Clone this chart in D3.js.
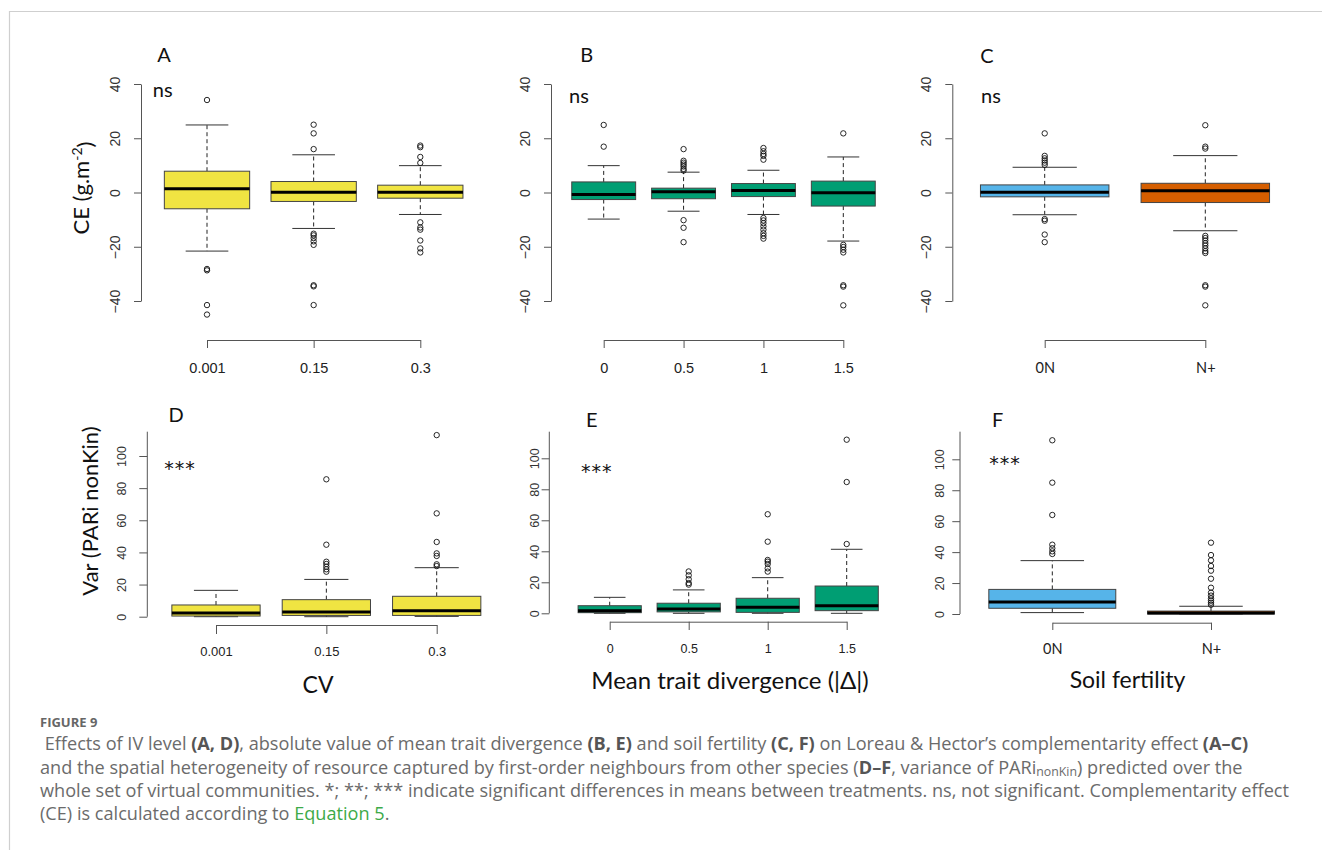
<!DOCTYPE html>
<html><head><meta charset="utf-8">
<script src="https://cdn.jsdelivr.net/npm/d3@7"></script>
<style>body{margin:0;background:#fff}</style>
</head><body>
<svg id="chart" width="1322" height="850"></svg>
<script>
// ---------------- DATA ----------------
// stats per box: [lower whisker, Q1, median, Q3, upper whisker]
const catsIV = ["0.001", "0.15", "0.3"];
const catsDiv = ["0", "0.5", "1", "1.5"];
const catsSoil = ["0N", "N+"];

const ceIV = [[-21.6, -6.0, 1.35, 7.85, 24.9], [-13.25, -3.3, 0.1, 4.05, 13.9], [-8.1, -2.1, 0.1, 2.7, 9.9]];
const ceIVOut = [[34.1, -28.2, -28.7, -41.5, -45.0],
  [25.0, 21.8, 16.0, -15.2, -15.8, -16.8, -18.0, -19.3, -34.2, -34.6, -41.5],
  [17.3, 16.7, 13.1, 10.9, -11.0, -12.9, -13.7, -17.7, -20.6, -22.1]];

const ceDiv = [[-9.8, -2.6, -0.7, 3.9, 9.9], [-6.9, -2.3, 0.25, 1.6, 7.5], [-8.1, -1.5, 0.7, 3.3, 8.2], [-17.9, -5.0, -0.1, 4.2, 13.1]];
const ceDivOut = [[24.9, 16.9],
  [16.0, 11.7, 11.0, 10.3, 9.6, 8.7, 8.1, -10.2, -13.0, -18.3],
  [16.4, 15.2, 14.2, 13.5, 12.1, -9.4, -10.3, -11.3, -12.5, -13.7, -15.0, -16.0, -17.0],
  [21.8, -19.3, -20.1, -21.1, -22.1, -34.2, -34.7, -41.6]];

const ceSoil = [[-8.2, -1.6, 0.1, 2.8, 9.3], [-14.1, -3.7, 0.6, 3.4, 13.6]];
const ceSoilOut = [[21.8, 13.5, 12.6, 11.8, 11.0, 10.2, -9.8, -10.4, -15.5, -18.3],
  [24.8, 16.9, 16.2, -16.0, -16.8, -17.7, -18.7, -19.6, -20.6, -21.6, -22.3, -34.2, -34.7, -41.6]];

const varIV = [[0, 0.4, 2.3, 7.3, 16.4], [0, 0.8, 2.9, 10.6, 23.2], [0.2, 0.8, 3.7, 12.7, 30.5]];
const varIVOut = [[], [85.5, 44.8, 34.2, 32.8, 31.1, 29.5, 28.0], [113.0, 64.3, 46.5, 39.4, 37.8, 32.6, 31.5]];

const varDiv = [[0, 0.4, 1.7, 4.9, 10.3], [0, 0.9, 2.8, 6.5, 15.1], [0, 0.6, 3.9, 9.7, 23.0], [0, 1.7, 4.9, 17.6, 41.3]];
const varDivOut = [[], [27.0, 24.5, 22.0, 19.5, 18.5], [63.9, 46.2, 34.4, 33.3, 31.8, 29.0, 26.9], [112.0, 84.7, 44.7]];

const varSoil = [[0.9, 3.7, 7.8, 15.9, 34.5], [0, 0, 0.6, 1.9, 5.0]];
const varSoilOut = [[112.3, 84.9, 64.0, 44.8, 42.5, 40.5, 38.8],
  [46.1, 38.1, 34.7, 31.0, 28.0, 22.8, 17.0, 13.8, 11.9, 10.1, 8.6, 7.3, 6.0]];

const ticksCE = [-40, -20, 0, 20, 40];
const ticksVar = [0, 20, 40, 60, 80, 100];

const fillIV = ["#F0E442"], fillDiv = ["#009E73"], fillSoil = ["#56B4E9", "#D55E00"];

// ---------------- DRAWING ----------------
const svg = d3.select("#chart");
svg.append("rect").attr("width", 1322).attr("height", 850).attr("fill", "#fff");
svg.append("path").attr("d", "M9.5,850V11.5H1322").attr("fill", "none").attr("stroke", "#cfcfcf").attr("stroke-width", 1.2);

const sansR = "'Liberation Sans', Arial, sans-serif";
const calib = "Lato, 'Open Sans', sans-serif";

function drawPanel(c) {
  const g = svg.append("g");
  const x = d3.scalePoint().domain(c.cats).range(c.xRange);
  const y = d3.scaleLinear().domain(c.yDomain).range(c.yRange);
  const step = x.step();
  const bw = step * 0.8;

  // y axis
  const ya = g.append("g").attr("transform", `translate(${c.axisX},0)`).attr("color", "#555")
    .call(d3.axisLeft(y).tickValues(c.yTicks).tickSize(c.yTick).tickSizeOuter(0));
  if (c.axisTop !== undefined) {
    ya.select(".domain").attr("d", `M0,${y(0)}V${c.axisTop}`);
  }
  ya.selectAll(".tick text")
    .attr("x", null).attr("dy", "0.36em").attr("text-anchor", "middle")
    .attr("transform", `translate(${-c.yLabOff},0) rotate(-90)`)
    .attr("fill", "#333").style("font-family", sansR).style("font-size", c.yLabSize + "px");

  // x axis (R style)
  const xa = g.append("g").attr("transform", `translate(0,${c.xAxisY})`).attr("color", "#555")
    .call(d3.axisBottom(x).tickSize(c.xTick).tickSizeOuter(0));
  xa.selectAll(".tick text").attr("y", c.xLabY - c.xAxisY).attr("dy", "0.36em")
    .attr("fill", "#222").style("font-family", c.xFont).style("font-size", c.xLabSize + "px");

  // boxes
  c.cats.forEach((cat, i) => {
    const [lw, q1, md, q3, uw] = c.box[i];
    const cx = x(cat);
    const fill = c.fills[i % c.fills.length];
    const bg = g.append("g");
    bg.append("line").attr("x1", cx).attr("x2", cx).attr("y1", y(q3)).attr("y2", y(uw))
      .attr("stroke", "#222").attr("stroke-dasharray", "4,3");
    bg.append("line").attr("x1", cx).attr("x2", cx).attr("y1", y(q1)).attr("y2", y(lw))
      .attr("stroke", "#222").attr("stroke-dasharray", "4,3");
    [uw, lw].forEach(v => bg.append("line").attr("x1", cx - bw / 4).attr("x2", cx + bw / 4)
      .attr("y1", y(v)).attr("y2", y(v)).attr("stroke", "#333").attr("stroke-width", 1));
    bg.append("rect").attr("x", cx - bw / 2).attr("width", bw)
      .attr("y", y(q3)).attr("height", Math.max(0.5, y(q1) - y(q3)))
      .attr("fill", fill).attr("stroke", "#444").attr("stroke-width", 1);
    bg.append("line").attr("x1", cx - bw / 2).attr("x2", cx + bw / 2)
      .attr("y1", y(md)).attr("y2", y(md)).attr("stroke", "#000").attr("stroke-width", 3);
    bg.selectAll("circle.o").data(c.out[i]).join("circle")
      .attr("cx", cx).attr("cy", d => y(d)).attr("r", 2.7)
      .attr("fill", "none").attr("stroke", "#111").attr("stroke-width", 0.9);
  });

  // panel letter & significance
  g.append("text").attr("x", c.letterPos[0]).attr("y", c.letterPos[1]).attr("dy", "0.36em")
    .attr("text-anchor", "middle").style("font-family", calib).style("font-size", "20px")
    .attr("fill", "#111").text(c.letter);
  const isNs = c.sig === "ns";
  g.append("text").attr("x", c.sigPos[0]).attr("y", c.sigPos[1]).attr("dy", isNs ? "0.3em" : "0.62em")
    .attr("text-anchor", "middle").style("font-family", isNs ? calib : "'DejaVu Sans', sans-serif")
    .style("font-size", isNs ? "20px" : "19px")
    .style("letter-spacing", isNs ? "0px" : "1px")
    .attr("fill", "#111").text(c.sig);
}

const row1 = { yDomain: [-40, 40], yRange: [301, 84], yTicks: ticksCE, yTick: 7, yLabOff: 26, yLabSize: 14,
  xAxisY: 340, xTick: 8, xLabY: 368, xLabSize: 14.5 };

drawPanel(Object.assign({}, row1, { cats: catsIV, box: ceIV, out: ceIVOut, fills: fillIV,
  axisX: 141, xRange: [207, 420.3], xFont: sansR, letter: "A", letterPos: [164, 55], sig: "ns", sigPos: [162.7, 91] }));
drawPanel(Object.assign({}, row1, { cats: catsDiv, box: ceDiv, out: ceDivOut, fills: fillDiv,
  axisX: 551, xRange: [603.7, 843.3], xFont: sansR, letter: "B", letterPos: [586.7, 55], sig: "ns", sigPos: [579, 96.7] }));
drawPanel(Object.assign({}, row1, { cats: catsSoil, box: ceSoil, out: ceSoilOut, fills: fillSoil,
  axisX: 952.3, xRange: [1044.7, 1205.3], xFont: calib, letter: "C", letterPos: [987, 56], sig: "ns", sigPos: [991, 96.7] }));

drawPanel({ cats: catsIV, box: varIV, out: varIVOut, fills: fillIV, yDomain: [0, 100], yRange: [616.7, 456],
  yTicks: ticksVar, yTick: 8, yLabOff: 25.6, yLabSize: 12.5, axisX: 147.3, axisTop: 431.7,
  xRange: [216, 436.7], xAxisY: 625, xTick: 9, xLabY: 651.7, xLabSize: 13, xFont: sansR,
  letter: "D", letterPos: [176, 415], sig: "***", sigPos: [180, 463] });
drawPanel({ cats: catsDiv, box: varDiv, out: varDivOut, fills: fillDiv, yDomain: [0, 100], yRange: [613.3, 458.3],
  yTicks: ticksVar, yTick: 7.7, yLabOff: 14.5, yLabSize: 12.5, axisX: 549.3, axisTop: 431.7,
  xRange: [609.7, 846.7], xAxisY: 621.7, xTick: 8.3, xLabY: 648.3, xLabSize: 12.5, xFont: sansR,
  letter: "E", letterPos: [591.7, 420], sig: "***", sigPos: [596.7, 466.7] });
drawPanel({ cats: catsSoil, box: varSoil, out: varSoilOut, fills: fillSoil, yDomain: [0, 100], yRange: [614, 459.3],
  yTicks: ticksVar, yTick: 7.7, yLabOff: 21, yLabSize: 12.5, axisX: 960, axisTop: 431.7,
  xRange: [1052.3, 1211], xAxisY: 622.7, xTick: 7.3, xLabY: 648.3, xLabSize: 14.5, xFont: calib,
  letter: "F", letterPos: [997.7, 420], sig: "***", sigPos: [1005, 458.3] });

// axis titles
const t1 = svg.append("text").attr("transform", "translate(81,188) rotate(-90)").attr("dy", "0.36em")
  .attr("text-anchor", "middle").style("font-family", calib).style("font-size", "22px").attr("fill", "#111");
t1.append("tspan").text("CE (g.m");
t1.append("tspan").attr("dy", "-0.5em").style("font-size", "14px").text("-2");
t1.append("tspan").attr("dy", "0.5em").text(")");
svg.append("text").attr("transform", "translate(90,511) rotate(-90)").attr("dy", "0.36em")
  .attr("text-anchor", "middle").style("font-family", calib).style("font-size", "22px").attr("fill", "#111")
  .text("Var (PARi nonKin)");
[["CV", 318, 685, 23], ["Mean trait divergence (|Δ|)", 730, 680, 24], ["Soil fertility", 1127.5, 680, 23]].forEach(([t, xx, yy, fz]) =>
  svg.append("text").attr("x", xx).attr("y", yy).attr("dy", "0.36em").attr("text-anchor", "middle")
    .style("font-family", calib).style("font-size", fz + "px").attr("fill", "#111").text(t));

// caption
const capFont = "'Open Sans', 'Noto Sans', sans-serif";
svg.append("text").attr("x", 40).attr("y", 727).style("font-family", capFont).style("font-weight", 700)
  .style("font-size", "13px").attr("fill", "#666").text("FIGURE 9");
const capLines = [
  [[" Effects of IV level ", 0], ["(A, D)", 1], [", absolute value of mean trait divergence ", 0], ["(B, E)", 1],
   [" and soil fertility ", 0], ["(C, F)", 1], [" on Loreau & Hector’s complementarity effect ", 0], ["(A–C)", 1]],
  [["and the spatial heterogeneity of resource captured by first-order neighbours from other species (", 0], ["D–F", 1],
   [", variance of PARi", 0], ["nonKin", 3], [") predicted over the", 0]],
  [["whole set of virtual communities. *; **; *** indicate significant differences in means between treatments. ns, not significant. Complementarity effect", 0]],
  [["(CE) is calculated according to ", 0], ["Equation 5", 2], [".", 0]]
];
const capY = [750, 773.5, 797, 820.3];
const capTexts = capLines.map((segs, li) => {
  const t = svg.append("text").attr("x", 40).attr("y", capY[li]).attr("xml:space", "preserve")
    .style("font-family", capFont).style("font-size", "16px").attr("fill", "#6b6b6b");
  segs.forEach(([s, k]) => {
    const ts = t.append("tspan").text(s);
    if (k === 1) ts.style("font-weight", 700).attr("fill", "#555");
    if (k === 2) ts.attr("fill", "#3daa48");
    if (k === 3) ts.attr("class", "sub").attr("dy", "2.5");
    if (k === 0 && li === 1 && s.startsWith(")")) ts.attr("dy", "-2.5");
  });
  return t;
});
// fit font size so line 3 spans the measured width
const len3 = capTexts[2].node().getComputedTextLength();
const fs = 16 * 1250 / len3;
capTexts.forEach(t => t.style("font-size", fs + "px"));
capTexts[1].selectAll("tspan.sub").style("font-size", (fs * 0.68) + "px");
</script>
</body></html>
